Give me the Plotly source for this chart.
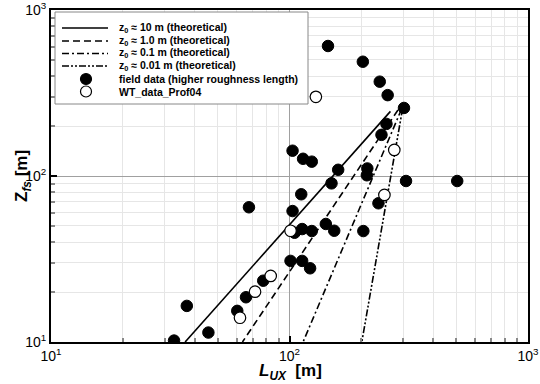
import plotly.graph_objects as go

# field data (filled)
field_L = [145, 203, 239, 258, 302, 255, 243, 103, 114, 124, 160, 212, 211, 150, 112,
           67.6, 103, 236, 105, 113, 124, 142, 154, 204, 101, 113, 122, 77.6, 65.7,
           60.4, 37.1, 45.7, 32.8, 308, 505]
field_Z = [607, 488, 370, 307, 257, 206, 177, 142, 127, 122, 109, 111, 101, 90.3, 77.6,
           64.8, 61.5, 68.5, 45.5, 47.9, 46.6, 51.4, 46.8, 46.6, 30.8, 30.8, 27.8, 23.4, 18.6,
           15.4, 16.5, 11.4, 10.2, 93.3, 93.3]

# wind tunnel data (open)
wt_L = [129, 275, 250, 101, 83.4, 71.7, 62.0]
wt_Z = [300, 143.5, 76.9, 46.8, 25.0, 20.1, 14.0]

# theoretical lines: [top, bottom] points
th10_L = [265, 36.5]
th10_Z = [245, 10]
th1_L = [285, 63.5]
th1_Z = [250, 10]
th01_L = [295, 114]
th01_Z = [253, 10]
th001_L = [298, 201]
th001_Z = [255, 10]

tick_vals = [10, 100, 1000]
tick_text = ["10<sup>1</sup>", "10<sup>2</sup>", "10<sup>3</sup>"]

names = ["<b>z<sub>0</sub> ≈ 10 m (theoretical)</b>",
         "<b>z<sub>0</sub> ≈ 1.0 m (theoretical)</b>",
         "<b>z<sub>0</sub> ≈ 0.1 m (theoretical)</b>",
         "<b>z<sub>0</sub> ≈ 0.01 m (theoretical)</b>",
         "<b>field data (higher roughness length)</b>",
         "<b>WT_data_Prof04</b>"]

dashes = ["solid", "7px,4px", "7px,3px,2px,3px", "7px,2px,2px,2px,2px,2px"]

# plot area geometry in pixels (for the hand-drawn legend box)
W, H = 540, 384
ML, MR, MT, MB = 51, 12, 10, 42
PW, PH = W - ML - MR, H - MT - MB


def px(x):
    return (x - ML) / PW


def py(y):
    return (H - MB - y) / PH


fig = go.Figure()
for (lx, lz), nm, d in zip([(th10_L, th10_Z), (th1_L, th1_Z), (th01_L, th01_Z), (th001_L, th001_Z)],
                           names[:4], dashes):
    fig.add_trace(go.Scatter(x=lx, y=lz, mode="lines", name=nm, showlegend=False,
                             line=dict(color="black", width=1.6, dash=d)))

fig.add_trace(go.Scatter(x=field_L, y=field_Z, mode="markers", name=names[4], showlegend=False,
                         marker=dict(color="black", size=11.5, line=dict(color="black", width=1))))
fig.add_trace(go.Scatter(x=wt_L, y=wt_Z, mode="markers", name=names[5], showlegend=False,
                         marker=dict(color="white", size=11.5, line=dict(color="black", width=1.2))))

minor_vals = [m * 10 ** e for e in (1, 2) for m in range(2, 10)]

axis_common = dict(
    type="log", tickvals=tick_vals, ticktext=tick_text, automargin=False,
    showline=True, linecolor="black", linewidth=2, mirror=True,
    ticks="inside", ticklen=6, tickwidth=2, tickcolor="black",
    showgrid=True, gridcolor="#a0a0a0", gridwidth=1,
    minor=dict(tickvals=minor_vals, ticks="inside", ticklen=4, tickcolor="#888",
               showgrid=True, gridcolor="#e6e6e6", gridwidth=1),
    tickfont=dict(size=14, color="black"),
    zeroline=False,
)

fig.update_xaxes(range=[1, 3], **axis_common)
fig.update_yaxes(range=[1, 3], **axis_common)

# legend (drawn manually to match the compact row spacing)
shapes = [dict(type="rect", xref="paper", yref="paper", x0=px(55), x1=px(308), y0=py(12), y1=py(104),
               fillcolor="white", line=dict(color="#888", width=1), layer="above")]
annotations = []
rows_y = [28, 41, 53.5, 66, 79, 91.5]
for i, (nm, yy) in enumerate(zip(names, rows_y)):
    if i < 4:
        shapes.append(dict(type="line", xref="paper", yref="paper", x0=px(62), x1=px(108),
                           y0=py(yy), y1=py(yy), layer="above",
                           line=dict(color="black", width=1.6, dash=dashes[i])))
    else:
        fill = "black" if i == 4 else "white"
        shapes.append(dict(type="circle", xref="paper", yref="paper", xsizemode="pixel",
                           ysizemode="pixel", xanchor=px(86), yanchor=py(yy), x0=-5.5, x1=5.5,
                           y0=-5.5, y1=5.5, fillcolor=fill, layer="above",
                           line=dict(color="black", width=1.2)))
    annotations.append(dict(text=nm, xref="paper", yref="paper", x=px(117), y=py(yy),
                            xanchor="left", yanchor="middle", showarrow=False,
                            font=dict(size=10.5, color="black")))

# axis titles
annotations.append(dict(text="<b><i>L<sub>UX</sub></i>  [m]</b>", xref="paper", yref="paper",
                        x=px(290), y=py(372), xanchor="center", yanchor="middle", showarrow=False,
                        font=dict(size=17, color="black")))
annotations.append(dict(text="<b>Z<sub><i>fs</i></sub> [m]</b>", xref="paper", yref="paper",
                        x=px(23), y=py(176), xanchor="center", yanchor="middle", showarrow=False,
                        textangle=-90, font=dict(size=17, color="black")))

fig.update_layout(
    width=W, height=H,
    margin=dict(l=ML, r=MR, t=MT, b=MB),
    paper_bgcolor="white", plot_bgcolor="white",
    font=dict(family="Arial, Liberation Sans, sans-serif", color="black"),
    showlegend=False,
    shapes=shapes, annotations=annotations,
)

fig.write_html("out.html", config={"displayModeBar": False},
               post_script="document.body.style.margin='0';document.body.style.padding='0';")
